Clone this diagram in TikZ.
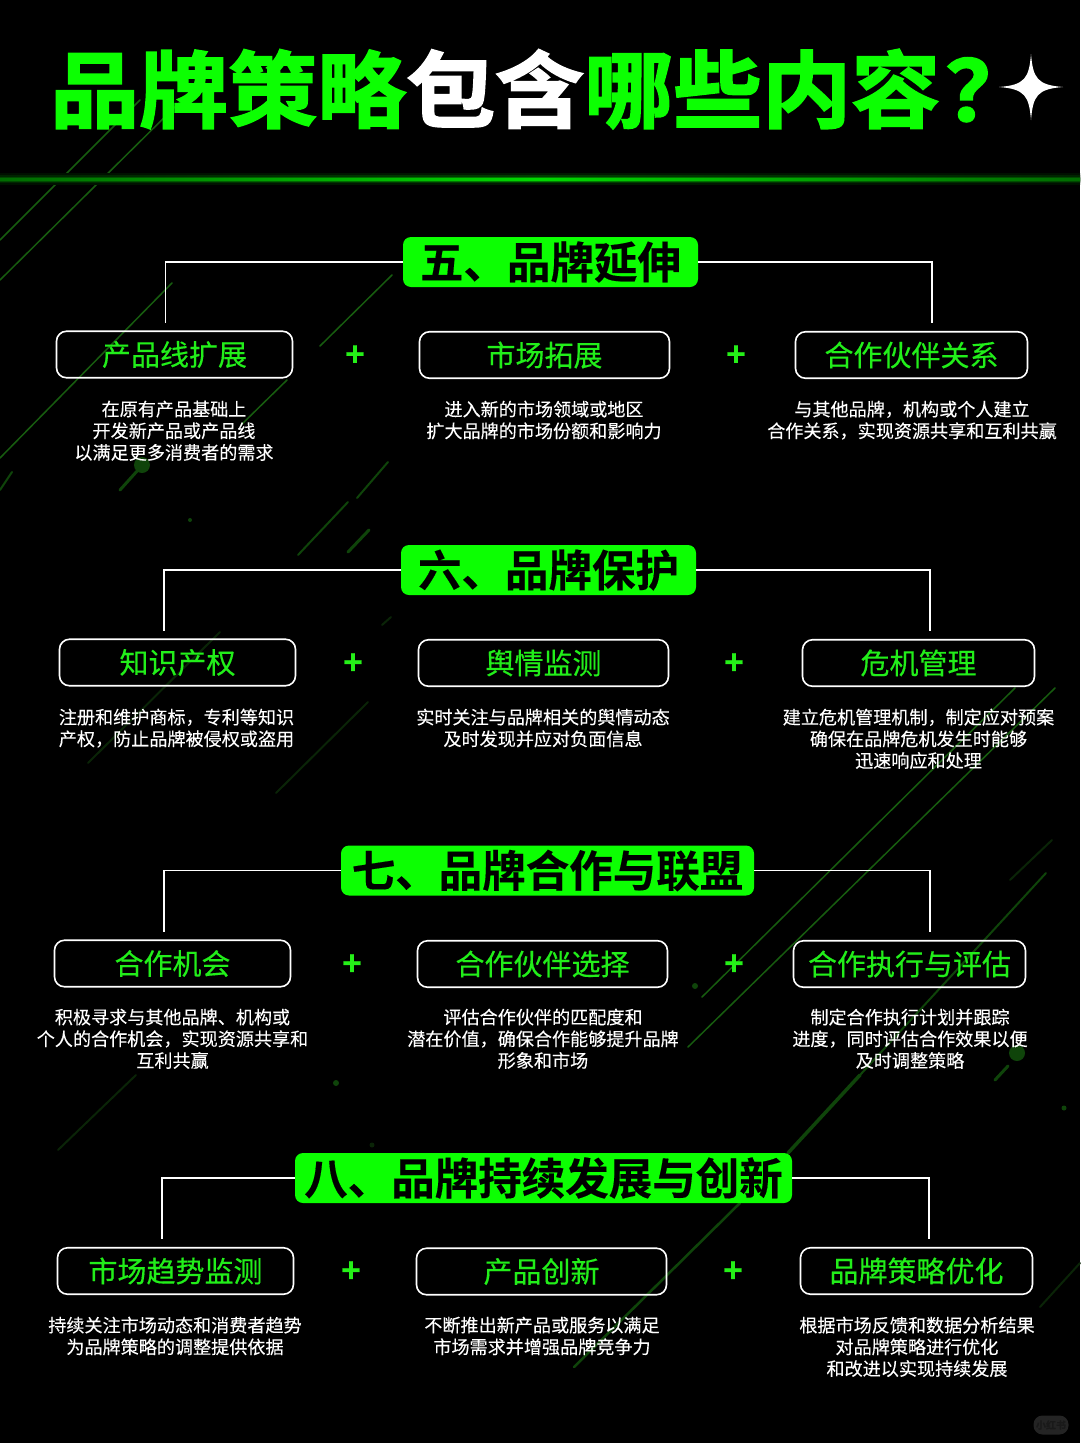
\documentclass[tikz,border=0pt]{standalone}
\usepackage{fontspec}
\setmainfont{Noto Sans CJK SC}
\newfontfamily\titlefont[FakeBold=2.0]{Noto Sans CJK SC Bold}
\newfontfamily\headfont[FakeBold=0.35]{Noto Sans CJK SC Bold}
\newfontfamily\lblfont[FakeBold=0.35]{Noto Sans CJK SC}
\newfontfamily\descfont[FakeBold=0.1]{Noto Sans CJK SC}
\definecolor{neon}{HTML}{0CFF02}
\definecolor{lbl}{HTML}{22EE1A}
\definecolor{plusc}{HTML}{25F018}
\definecolor{streaka}{HTML}{175C0F}
\definecolor{streakb}{HTML}{0F440A}
\definecolor{streakc}{HTML}{0A2407}
\tikzset{
  x=1pt,y=-1pt,
  headbox/.style={fill=neon,rounded corners=8pt,minimum height=50pt,inner sep=0pt,text=black,font=\headfont\fontsize{43.5}{44}\selectfont},
  lblbox/.style={draw=white,line width=1.6pt,rounded corners=10pt,minimum height=46.5pt,inner sep=0pt,text=lbl,font=\lblfont\fontsize{29}{30}\selectfont},
  desc/.style={text=white,align=center,anchor=north,inner sep=0pt,font=\descfont\fontsize{18.1}{21.7}\selectfont},
  plusmark/.style={text=plusc,inner sep=0pt,font=\headfont\fontsize{33}{33}\selectfont},
  conn/.style={draw=white,line width=1.5pt,line join=miter},
  streak/.style={draw=streaka,line width=1.5pt,line cap=round},
  streakm/.style={draw=streakb,line width=2pt,line cap=round},
  streakf/.style={draw=streakc,line width=2pt,line cap=round},
}
\begin{document}
\begin{tikzpicture}
\useasboundingbox (0,0) rectangle (1080,1443);
\fill[black] (0,0) rectangle (1080,1443);
% streaks
\draw[streak] (0,240) -- (140,100);
\draw[streak] (0,280) -- (182,100);
\draw[streak] (0,458) -- (172,283);
\draw[streak] (320,346) -- (392,275);
\draw[streak] (287,380) -- (241,425);
\draw[streakm] (0,490) -- (12,472);
\draw[streakm,line width=3pt] (120,490) -- (138,470);
\fill[streakb] (142,465) circle (8);
\fill[streakb] (190,520) circle (2);
\draw[streakm] (357,498) -- (388,462);
\draw[streakm] (298,555) -- (348,502);
\draw[streakm,line width=3pt] (348,552) -- (369,530);
\draw[streakf] (276,793) -- (368,702);
\draw[streakf] (88,763) -- (220,632);
\draw[streakf] (382,625) -- (391,617);
\draw[streak] (1055,688) -- (688,1047);
\draw[streak] (1015,688) -- (702,997);
\draw[streakm] (1046,873) -- (860,1075);
\draw[streakm,line width=3.5pt] (860,1075) -- (788,1153);
\draw[streakm,line width=2.5pt] (740,1203) -- (574,1367);
\draw[streakf] (1010,880) -- (1052,840);
\fill[streakb] (695,986) circle (3);
\fill[streakb] (1017,1053) circle (8);
\draw[streakm,line width=3pt] (995,1080) -- (1008,1066);
\fill[streakb] (1064,1108) circle (2.5);
\draw[streakf] (136,1075) -- (58,1150);
\fill[streakb] (336,1083) circle (3);
\fill[streakc] (372,1145) circle (2.5);
\draw[streakf] (1080,1263) -- (1040,1307);
% glow rule
\shade[left color=green!6!black,right color=green!6!black,middle color=green!10!black] (0,173.5) rectangle (1080,184.5);
\shade[left color=green!14!black,right color=green!14!black,middle color=green!24!black] (0,175.5) rectangle (1080,182.5);
\shade[left color=green!28!black,right color=green!28!black,middle color=green!50!black] (0,177) rectangle (1080,181);
\shade[left color=green!42!black,right color=green!42!black,middle color=green!85!black] (0,178) rectangle (1080,180);
% title
\node[anchor=west,inner sep=0pt,font=\titlefont\fontsize{89}{90}\selectfont,text=neon] (title) at (50,89) {\scalebox{1}[0.94]{品牌策略\textcolor{white}{包含}哪些内容\hspace{5pt}？}};
\fill[white] (1031,54) .. controls (1033,78) and (1037,85) .. (1063,87) .. controls (1037,89) and (1033,96) .. (1031,120) .. controls (1029,96) and (1025,89) .. (999,87) .. controls (1025,85) and (1029,78) .. (1031,54) -- cycle;
% section five
\node[headbox,minimum width=295pt] (h5) at (550.5,262) {五、品牌延伸};
\node[lblbox,minimum width=236pt] (a5) at (174.5,354.5) {产品线扩展};
\node[lblbox,minimum width=250pt] (b5) at (544.5,355) {市场拓展};
\node[lblbox,minimum width=232pt] (c5) at (911.5,355) {合作伙伴关系};
\node[plusmark] (p5a) at (355,356) {+};
\node[plusmark] (p5b) at (736,356) {+};
\node[desc] (d5a) at (174,400.5) {在原有产品基础上\\开发新产品或产品线\\以满足更多消费者的需求};
\node[desc] (d5b) at (544,400.5) {进入新的市场领域或地区\\扩大品牌的市场份额和影响力};
\node[desc] (d5c) at (912,400.5) {与其他品牌，机构或个人建立\\合作关系，实现资源共享和互利共赢};
\coordinate (e5a) at (165.5,323);
\coordinate (e5c) at (932,323);
\draw[conn] (h5.west) -| (e5a);
\draw[conn] (h5.east) -| (e5c);
% section six
\node[headbox,minimum width=295pt] (h6) at (548.5,570) {六、品牌保护};
\node[lblbox,minimum width=236pt] (a6) at (177.5,662.5) {知识产权};
\node[lblbox,minimum width=250pt] (b6) at (543.5,663) {舆情监测};
\node[lblbox,minimum width=232pt] (c6) at (918.5,663) {危机管理};
\node[plusmark] (p6a) at (353,664) {+};
\node[plusmark] (p6b) at (734,664) {+};
\node[desc] (d6a) at (176.5,708.5) {注册和维护商标，专利等知识\\产权，防止品牌被侵权或盗用};
\node[desc] (d6b) at (543,708.5) {实时关注与品牌相关的舆情动态\\及时发现并应对负面信息};
\node[desc] (d6c) at (918.5,708.5) {建立危机管理机制，制定应对预案\\确保在品牌危机发生时能够\\迅速响应和处理};
\coordinate (e6a) at (164,631);
\coordinate (e6c) at (930,631);
\draw[conn] (h6.west) -| (e6a);
\draw[conn] (h6.east) -| (e6c);
% section seven
\node[headbox,minimum width=413pt] (h7) at (547.5,870.5) {七、品牌合作与联盟};
\node[lblbox,minimum width=236pt] (a7) at (172.5,963.5) {合作机会};
\node[lblbox,minimum width=250pt] (b7) at (542.5,964) {合作伙伴选择};
\node[lblbox,minimum width=232pt] (c7) at (909.5,964) {合作执行与评估};
\node[plusmark] (p7a) at (352,965) {+};
\node[plusmark] (p7b) at (734,965) {+};
\node[desc] (d7a) at (172.5,1008.5) {积极寻求与其他品牌、机构或\\个人的合作机会，实现资源共享和\\互利共赢};
\node[desc] (d7b) at (543,1008.5) {评估合作伙伴的匹配度和\\潜在价值，确保合作能够提升品牌\\形象和市场};
\node[desc] (d7c) at (910,1008.5) {制定合作执行计划并跟踪\\进度，同时评估合作效果以便\\及时调整策略};
\coordinate (e7a) at (164,932);
\coordinate (e7c) at (930,932);
\draw[conn] (h7.west) -| (e7a);
\draw[conn] (h7.east) -| (e7c);
% section eight
\node[headbox,minimum width=497pt] (h8) at (543.5,1178) {八、品牌持续发展与创新};
\node[lblbox,minimum width=236pt] (a8) at (175.5,1271) {市场趋势监测};
\node[lblbox,minimum width=250pt] (b8) at (541.5,1271.5) {产品创新};
\node[lblbox,minimum width=232pt] (c8) at (916.5,1271) {品牌策略优化};
\node[plusmark] (p8a) at (351,1272) {+};
\node[plusmark] (p8b) at (733,1272) {+};
\node[desc] (d8a) at (175,1316.5) {持续关注市场动态和消费者趋势\\为品牌策略的调整提供依据};
\node[desc] (d8b) at (542,1316.5) {不断推出新产品或服务以满足\\市场需求并增强品牌竞争力};
\node[desc] (d8c) at (917,1316.5) {根据市场反馈和数据分析结果\\对品牌策略进行优化\\和改进以实现持续发展};
\coordinate (e8a) at (162,1239);
\coordinate (e8c) at (929,1239);
\draw[conn] (h8.west) -| (e8a);
\draw[conn] (h8.east) -| (e8c);
% watermark
\node[fill=black!86!white,rounded corners=9pt,minimum width=35pt,minimum height=19pt,inner sep=0pt,text=black!90!white,font=\headfont\fontsize{10}{10}\selectfont] (wm) at (1051,1425) {小红书};
\end{tikzpicture}
\end{document}
